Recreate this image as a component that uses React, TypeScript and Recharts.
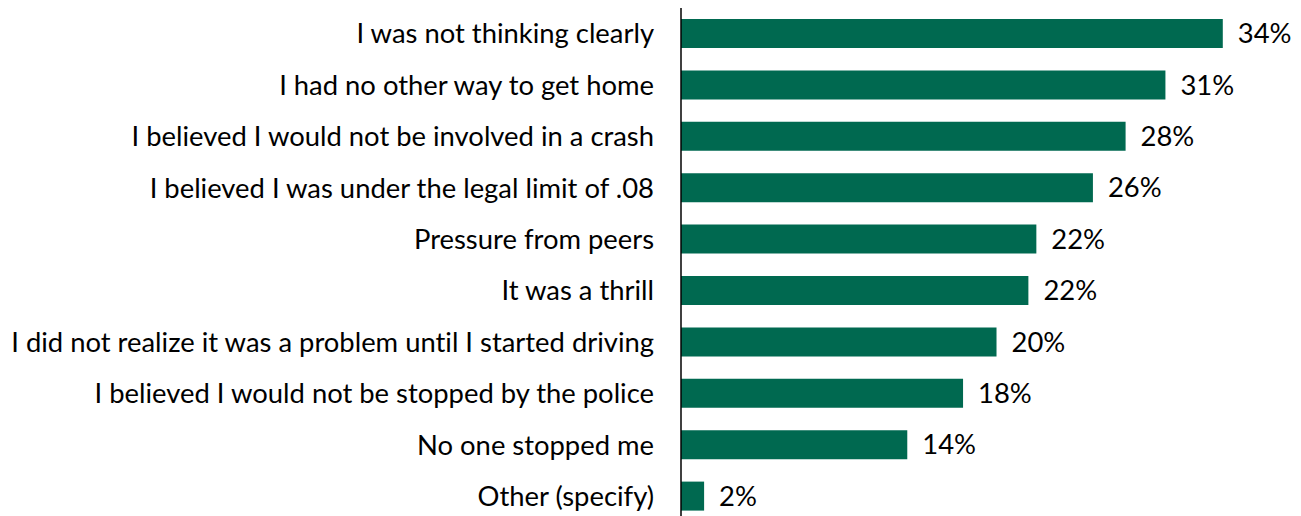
import React from "react";
import { BarChart, Bar, XAxis, YAxis, LabelList } from "recharts";

const categories = [
  "I was not thinking clearly",
  "I had no other way to get home",
  "I believed I would not be involved in a crash",
  "I believed I was under the legal limit of .08",
  "Pressure from peers",
  "It was a thrill",
  "I did not realize it was a problem until I started driving",
  "I believed I would not be stopped by the police",
  "No one stopped me",
  "Other (specify)",
];
const values = [34.0, 30.4, 27.9, 25.85, 22.3, 21.8, 19.8, 17.7, 14.2, 1.45];
const valueLabels = ["34%", "31%", "28%", "26%", "22%", "22%", "20%", "18%", "14%", "2%"];

const data = categories.map((c, i) => ({ name: c, value: values[i], label: valueLabels[i] }));

const FONT = "Lato, 'Open Sans', sans-serif";

export default function App() {
  return (
    <div
      style={{
        position: "absolute",
        left: 0,
        top: 0,
        width: 1301,
        height: 516,
        overflow: "hidden",
        background: "#fff",
        fontVariantLigatures: "none",
        fontFeatureSettings: '"liga" 0, "clig" 0',
      }}
    >
      <BarChart
        width={1320}
        height={530}
        data={data}
        layout="vertical"
        margin={{ top: 8, right: 0, bottom: 8, left: 0 }}
      >
        <XAxis type="number" domain={[0, 40.1]} hide />
        <YAxis
          type="category"
          dataKey="name"
          width={681}
          axisLine={{ stroke: "#000", strokeWidth: 1.5 }}
          tickLine={false}
          tickSize={0}
          tickMargin={27}
          interval={0}
          tick={{ fill: "#000", fontSize: 27.4, fontFamily: FONT }}
        />
        <Bar dataKey="value" fill="#006950" barSize={29} isAnimationActive={false}>
          <LabelList
            dataKey="label"
            position="right"
            offset={15}
            style={{ fill: "#000", fontSize: 27.4, fontFamily: FONT }}
          />
        </Bar>
      </BarChart>
    </div>
  );
}
